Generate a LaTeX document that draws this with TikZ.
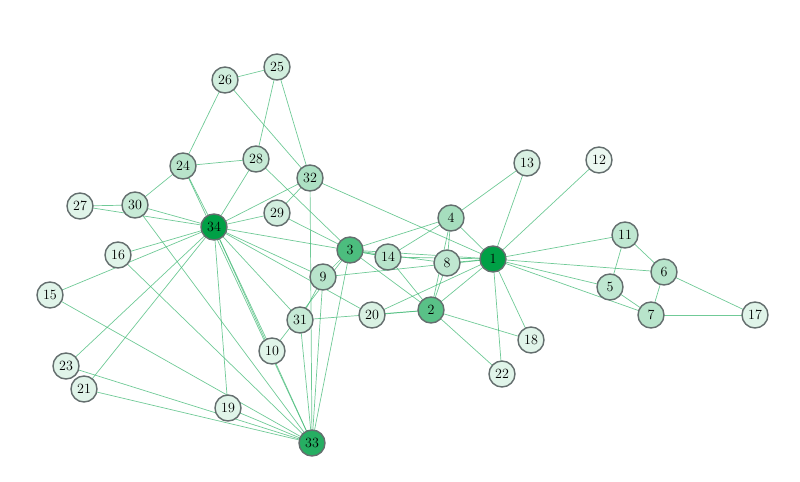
\documentclass[tikz,border=0pt]{standalone}
\usepackage{tikz}
\definecolor{kgreen}{RGB}{0,160,70}
\definecolor{kgray}{RGB}{100,110,110}
\tikzset{
  member/.style={circle,draw=kgray,line width=1.2pt,minimum size=0.78cm,inner sep=0pt,font=\large},
  tie/.style={draw=kgreen!75!white,line width=0.6pt,opacity=0.75}
}
\begin{document}
\begin{tikzpicture}[x=0.03cm,y=-0.03cm]
				\useasboundingbox (0,0) rectangle (800,482);
				% members: x/y/number/shade
				\foreach \px/\py/\n/\s in {493/259/1/100,431/310/2/65,350/250/3/70,451/218/4/35,
				610/287/5/25,664/272/6/28,651/315/7/28,447/263/8/25,323/277/9/28,272/351/10/12,
				625/235/11/25,599/160/12/8,527/163/13/15,388/257/14/28,50/295/15/12,118/255/16/12,
				755/315/17/12,531/340/18/12,228/408/19/12,372/315/20/15,84/389/21/12,502/374/22/12,
				66/366/23/12,183/166/24/28,277/67/25/18,225/80/26/18,80/206/27/12,256/159/28/22,
				277/213/29/18,135/205/30/22,300/320/31/22,310/178/32/32,312/443/33/85,214/227/34/100}
				\coordinate (c\n) at (\px,\py);
				% ties
				\foreach \a/\b in {1/2,1/3,1/4,1/5,1/6,1/7,1/8,1/9,1/11,1/12,1/13,1/14,1/18,1/20,1/22,1/32,
				2/3,2/4,2/8,2/14,2/18,2/20,2/22,2/31,3/4,3/8,3/9,3/10,3/14,3/28,3/29,3/33,
				4/8,4/13,4/14,5/7,5/11,6/7,6/11,6/17,7/17,9/31,9/33,9/34,10/34,14/34,
				15/33,15/34,16/33,16/34,19/33,19/34,20/34,21/33,21/34,23/33,23/34,
				24/26,24/28,24/30,24/33,24/34,25/26,25/28,25/32,26/32,27/30,27/34,28/34,
				29/32,29/34,30/33,30/34,31/33,31/34,32/33,32/34,33/34}
				\draw[tie] (c\a) -- (c\b);
				\foreach \px/\py/\n/\s in {493/259/1/100,431/310/2/65,350/250/3/70,451/218/4/35,
				610/287/5/25,664/272/6/28,651/315/7/28,447/263/8/25,323/277/9/28,272/351/10/12,
				625/235/11/25,599/160/12/8,527/163/13/15,388/257/14/28,50/295/15/12,118/255/16/12,
				755/315/17/12,531/340/18/12,228/408/19/12,372/315/20/15,84/389/21/12,502/374/22/12,
				66/366/23/12,183/166/24/28,277/67/25/18,225/80/26/18,80/206/27/12,256/159/28/22,
				277/213/29/18,135/205/30/22,300/320/31/22,310/178/32/32,312/443/33/85,214/227/34/100}
				\node[member,fill=kgreen!\s!white] (m\n) at (c\n) {\n};
\end{tikzpicture}
\end{document}
